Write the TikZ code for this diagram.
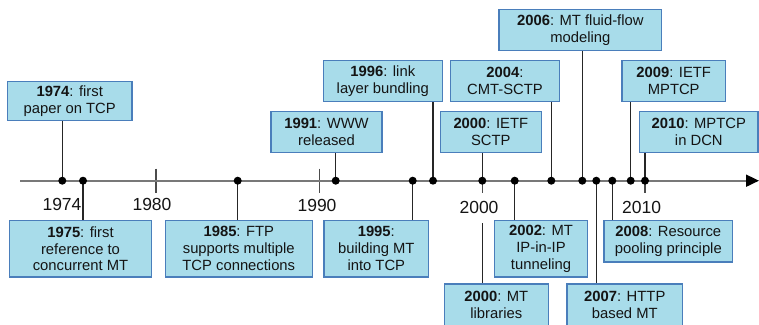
\documentclass[tikz,border=0pt]{standalone}
\usepackage{fontspec}
\setmainfont{Liberation Sans}
\usetikzlibrary{arrows.meta}
\definecolor{boxfill}{RGB}{168,220,234}
\definecolor{boxline}{RGB}{74,126,187}
\definecolor{axisgrey}{RGB}{120,120,120}
\definecolor{ink}{RGB}{20,20,20}
\tikzset{
  event/.style={draw=boxline, fill=boxfill, line width=1.2pt, inner sep=0pt,
    align=center, text=ink, font=\fontsize{14.8}{16.9}\selectfont},
  conn/.style={draw=black!85, line width=1.2pt},
  tickmark/.style={draw=black!70, line width=1.1pt},
  dot/.style={circle, fill=black, inner sep=0pt, minimum size=8pt},
  yearlbl/.style={inner sep=0pt, text=ink, font=\fontsize{17.5}{18}\selectfont},
}
\newcommand{\evbox}[6]{% name, x, y, width, height, text
  \node[event, minimum width=#4pt, minimum height=#5pt] (#1) at (#2,#3) {#6};}
\begin{document}
\begin{tikzpicture}[x=1pt, y=-1pt]
\useasboundingbox (0,0) rectangle (759,324);
\clip (0,0) rectangle (759,324);

% points on the time axis
\def\ax{180.7}
\coordinate (y1974) at (62.3,\ax);
\coordinate (y1975) at (83,\ax);
\coordinate (y1985) at (237.7,\ax);
\coordinate (y1991) at (335.7,\ax);
\coordinate (y1995) at (412.7,\ax);
\coordinate (y1996) at (433,\ax);
\coordinate (y2000) at (482.3,\ax);
\coordinate (y2002) at (514.7,\ax);
\coordinate (y2004) at (551.3,\ax);
\coordinate (y2006) at (582.3,\ax);
\coordinate (y2007) at (596.3,\ax);
\coordinate (y2008) at (612.3,\ax);
\coordinate (y2009) at (630.7,\ax);
\coordinate (y2010) at (645,\ax);
\coordinate (axstart) at (20,\ax);
\coordinate (axend) at (759,\ax);

% events above the axis
\evbox{b1974}{69.7}{100.8}{124.7}{39}{\textbf{1974}: first\\paper on TCP}
\evbox{b1991}{326.5}{132}{111}{41.4}{\textbf{1991}: WWW\\released}
\evbox{b1996}{382.8}{80.8}{119}{41}{\textbf{1996}: link\\layer bundling}
\evbox{b2004}{505}{80.8}{108.6}{41}{\textbf{2004}:\\CMT-SCTP}
\evbox{b2000s}{490.8}{132}{101}{41.4}{\textbf{2000}: IETF\\SCTP}
\evbox{b2006}{580.3}{30}{162.7}{41.4}{\textbf{2006}: MT fluid-flow\\modeling}
\evbox{b2009}{673.7}{80.8}{103.3}{41}{\textbf{2009}: IETF\\MPTCP}
\evbox{b2010}{698.8}{132}{118.3}{41.4}{\textbf{2010}: MPTCP\\in DCN}

% events below the axis
\evbox{b1975}{80.5}{248.8}{142.4}{56.3}{\textbf{1975}: first\\reference to\\concurrent MT}
\evbox{b1985}{238.8}{248.8}{147}{56.3}{\textbf{1985}: FTP\\supports multiple\\TCP connections}
\evbox{b1995}{376.3}{248.8}{104.7}{56.3}{\textbf{1995}:\\building MT\\into TCP}
\evbox{b2002}{541}{248.8}{93.4}{56.3}{\textbf{2002}: MT\\IP-in-IP\\tunneling}
\evbox{b2008}{668.3}{241.3}{128.7}{41.3}{\textbf{2008}: Resource\\pooling principle}
\evbox{b2000m}{496.3}{304.7}{104}{41.4}{\textbf{2000}: MT\\libraries}
\evbox{b2007}{624.8}{304.7}{115.7}{41.4}{\textbf{2007}: HTTP\\based MT}

% year labels
\node[yearlbl] (l1974) at (62,204) {1974};
\node[yearlbl] (l1980) at (152,204) {1980};
\node[yearlbl] (l1990) at (317,205) {1990};
\node[yearlbl] (l2000) at (479,207.7) {2000};
\node[yearlbl] (l2010) at (641.7,207.7) {2010};

% ticks
\coordinate (t1980) at (156,\ax);
\coordinate (t1990) at (319.7,\ax);
\draw[tickmark] ([yshift=12pt]t1980) -- ([yshift=-12pt]t1980);
\draw[tickmark] ([yshift=12pt]t1990) -- ([yshift=-12pt]t1990);
\draw[tickmark] ([yshift=12pt]y2000) -- ([yshift=-12pt]y2000);
\draw[tickmark] (y2010) -- ([yshift=-12pt]y2010);

% connectors from the axis to the events
\foreach \yr/\bx in {1974/b1974,1991/b1991,1996/b1996,2004/b2004,2000/b2000s,
                     2006/b2006,2009/b2009,2010/b2010}
  \draw[conn] (y\yr) -- (y\yr |- \bx.south);
\foreach \yr/\bx in {1975/b1975,1985/b1985,1995/b1995,2002/b2002,2008/b2008,2007/b2007}
  \draw[conn] (y\yr) -- (y\yr |- \bx.north);
\draw[conn] ([yshift=-9pt]l2000.south -| y2000) -- (y2000 |- b2000m.north);

% the time axis
\draw[draw=axisgrey, line width=1.8pt,
      -{Triangle[length=13pt,width=12pt,color=black,fill=black]}]
  (axstart) -- (axend);

% event markers
\foreach \yr in {1974,1975,1985,1991,1995,1996,2000,2002,2004,2006,2007,2008,2009,2010}
  \node[dot] (p\yr) at (y\yr) {};
\end{tikzpicture}
\end{document}
